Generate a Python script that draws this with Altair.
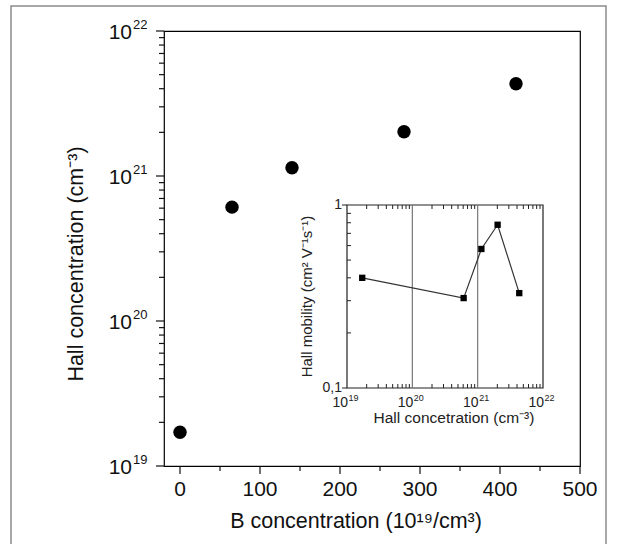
import altair as alt
import pandas as pd

# ---------------- data ----------------
b_conc = [0, 65, 140, 280, 420]                       # 10^19 / cm^3
hall_conc = [1.71e19, 6.1e20, 1.14e21, 2.02e21, 4.33e21]  # cm^-3
mobility = [0.40, 0.31, 0.575, 0.78, 0.33]            # cm^2 V^-1 s^-1

main_x_ticks = [0, 100, 200, 300, 400, 500]
main_x_labels = ["0", "100", "200", "300", "400", "500"]
main_x_minor = [50, 150, 250, 350, 450]
main_y_ticks = [1e19, 1e20, 1e21, 1e22]
main_y_base = ["10", "10", "10", "10"]
main_y_exp = ["19", "20", "21", "22"]
main_y_minor = [k * 10.0 ** e for e in (19, 20, 21) for k in range(2, 10)]

inset_x_ticks = [1e19, 1e20, 1e21, 1e22]
inset_x_base = ["10", "10", "10", "10"]
inset_x_exp = ["19", "20", "21", "22"]
inset_x_minor = [k * 10.0 ** e for e in (19, 20, 21) for k in range(2, 10)]
inset_grid = [1e20, 1e21]
inset_y_ticks = [0.1, 1.0]
inset_y_labels = ["0,1", "1"]
inset_y_minor = [0.2, 0.3, 0.4, 0.5, 0.6, 0.7, 0.8, 0.9]

main_x_title = "B concentration (10\u00b9\u2079/cm\u00b3)"
main_y_title = "Hall concentration (cm\u207b\u00b3)"
inset_x_title = "Hall concetration (cm\u207b\u00b3)"
inset_y_title = "Hall mobility (cm\u00b2 V\u207b\u00b9s\u207b\u00b9)"

FONT = "Liberation Sans"
W, H = 416, 435
INK = "#111"

# ---------------- main plot ----------------
xs = alt.Scale(domain=[-20, 500], nice=False, zero=False)
ys = alt.Scale(type="log", domain=[1e19, 1e22], nice=False)

main_df = pd.DataFrame({"b": b_conc, "hall": hall_conc})

points = alt.Chart(main_df).mark_circle(size=180, color="black", opacity=1).encode(
    x=alt.X("b:Q", scale=xs, axis=None),
    y=alt.Y("hall:Q", scale=ys, axis=None),
)

ymaj_df = pd.DataFrame({"v": main_y_ticks, "base": main_y_base, "exp": main_y_exp})
ymin_df = pd.DataFrame({"v": main_y_minor})
xmaj_df = pd.DataFrame({"v": main_x_ticks, "lab": main_x_labels})
xmin_df = pd.DataFrame({"v": main_x_minor})

y_major = alt.Chart(ymaj_df).mark_rule(color=INK, strokeWidth=1.2, x2Offset=-8).encode(
    y=alt.Y("v:Q", scale=ys, axis=None),
    x=alt.XDatum(-20, scale=xs, axis=None), x2=alt.datum(-20))
y_minor = alt.Chart(ymin_df).mark_rule(color=INK, strokeWidth=1.2, x2Offset=-5).encode(
    y=alt.Y("v:Q", scale=ys, axis=None),
    x=alt.XDatum(-20, scale=xs, axis=None), x2=alt.datum(-20))
x_major = alt.Chart(xmaj_df).mark_rule(color=INK, strokeWidth=1.2, y2Offset=8).encode(
    x=alt.X("v:Q", scale=xs, axis=None),
    y=alt.YDatum(1e19, scale=ys, axis=None), y2=alt.datum(1e19))
x_minor = alt.Chart(xmin_df).mark_rule(color=INK, strokeWidth=1.2, y2Offset=5).encode(
    x=alt.X("v:Q", scale=xs, axis=None),
    y=alt.YDatum(1e19, scale=ys, axis=None), y2=alt.datum(1e19))

y_lab_base = alt.Chart(ymaj_df).mark_text(
    font=FONT, fontSize=21, align="right", baseline="middle", dx=-32, dy=2, color=INK).encode(
    y=alt.Y("v:Q", scale=ys, axis=None),
    x=alt.XDatum(-20, scale=xs, axis=None), text="base:N")
y_lab_exp = alt.Chart(ymaj_df).mark_text(
    font=FONT, fontSize=13, align="left", baseline="middle", dx=-31, dy=-6, color=INK).encode(
    y=alt.Y("v:Q", scale=ys, axis=None),
    x=alt.XDatum(-20, scale=xs, axis=None), text="exp:N")
x_lab = alt.Chart(xmaj_df).mark_text(
    font=FONT, fontSize=21, align="center", baseline="middle", dy=24, color=INK).encode(
    x=alt.X("v:Q", scale=xs, axis=None),
    y=alt.YDatum(1e19, scale=ys, axis=None), text="lab:N")

x_tit = alt.Chart(pd.DataFrame({"t": [main_x_title]})).mark_text(
    font=FONT, fontSize=21.5, align="center", baseline="middle", color=INK).encode(
    x=alt.value(192), y=alt.value(491), text="t:N")
y_tit = alt.Chart(pd.DataFrame({"t": [main_y_title]})).mark_text(
    font=FONT, fontSize=21.5, align="center", baseline="middle", angle=270, color=INK).encode(
    x=alt.value(-87), y=alt.value(233), text="t:N")

border = alt.Chart(pd.DataFrame({"a": [0]})).mark_rect(
    fill="transparent", stroke="#8c8c8c", strokeWidth=1.5).encode(
    x=alt.value(-153), x2=alt.value(442), y=alt.value(-25), y2=alt.value(560))

main = alt.layer(points, y_major, y_minor, x_major, x_minor, y_lab_base, y_lab_exp,
                 x_lab, x_tit, y_tit, border)

# ---------------- inset ----------------
ixs = alt.Scale(type="log", domain=[1e19, 1e22], range=[183, 379], nice=False)
iys = alt.Scale(type="log", domain=[0.1, 1.0], range=[357, 174], nice=False)

inset_df = pd.DataFrame({"hc": hall_conc, "mob": mobility})

frame = alt.Chart(pd.DataFrame({"a": [0]})).mark_rect(
    fill="white", stroke="#222", strokeWidth=1.2).encode(
    x=alt.XDatum(1e19, scale=ixs, axis=None), x2=alt.datum(1e22),
    y=alt.YDatum(0.1, scale=iys, axis=None), y2=alt.datum(1.0))

grid = alt.Chart(pd.DataFrame({"g": inset_grid})).mark_rule(color="#777", strokeWidth=1.2).encode(
    x=alt.X("g:Q", scale=ixs, axis=None),
    y=alt.YDatum(0.1, scale=iys, axis=None), y2=alt.datum(1.0))

ixm_df = pd.DataFrame({"v": inset_x_minor})
top_minor = alt.Chart(ixm_df).mark_rule(color="#222", y2Offset=4).encode(
    x=alt.X("v:Q", scale=ixs, axis=None),
    y=alt.YDatum(1.0, scale=iys, axis=None), y2=alt.datum(1.0))
bot_minor = alt.Chart(ixm_df).mark_rule(color="#222", y2Offset=-4).encode(
    x=alt.X("v:Q", scale=ixs, axis=None),
    y=alt.YDatum(0.1, scale=iys, axis=None), y2=alt.datum(0.1))
left_minor = alt.Chart(pd.DataFrame({"v": inset_y_minor})).mark_rule(color="#222", x2Offset=4).encode(
    y=alt.Y("v:Q", scale=iys, axis=None),
    x=alt.XDatum(1e19, scale=ixs, axis=None), x2=alt.datum(1e19))
iyt_df = pd.DataFrame({"v": inset_y_ticks, "lab": inset_y_labels})
left_major = alt.Chart(iyt_df).mark_rule(color="#222", x2Offset=-5).encode(
    y=alt.Y("v:Q", scale=iys, axis=None),
    x=alt.XDatum(1e19, scale=ixs, axis=None), x2=alt.datum(1e19))

line = alt.Chart(inset_df).mark_line(color="#333", strokeWidth=1.2).encode(
    x=alt.X("hc:Q", scale=ixs, axis=None),
    y=alt.Y("mob:Q", scale=iys, axis=None))
squares = alt.Chart(inset_df).mark_square(size=40, color="black", opacity=1).encode(
    x=alt.X("hc:Q", scale=ixs, axis=None),
    y=alt.Y("mob:Q", scale=iys, axis=None))

ixt_df = pd.DataFrame({"v": inset_x_ticks, "base": inset_x_base, "exp": inset_x_exp})
x_labels_base = alt.Chart(ixt_df).mark_text(
    font=FONT, fontSize=14, baseline="middle", align="right", dx=1, dy=15, color="#222").encode(
    x=alt.X("v:Q", scale=ixs, axis=None),
    y=alt.YDatum(0.1, scale=iys, axis=None),
    text="base:N")
x_labels_exp = alt.Chart(ixt_df).mark_text(
    font=FONT, fontSize=9, baseline="middle", align="left", dx=1.5, dy=10, color="#222").encode(
    x=alt.X("v:Q", scale=ixs, axis=None),
    y=alt.YDatum(0.1, scale=iys, axis=None),
    text="exp:N")
y_labels = alt.Chart(iyt_df).mark_text(
    font=FONT, fontSize=14, baseline="middle", align="right", dx=-5, color="#222").encode(
    y=alt.Y("v:Q", scale=iys, axis=None),
    x=alt.XDatum(1e19, scale=ixs, axis=None),
    text="lab:N")
x_title = alt.Chart(pd.DataFrame({"t": [inset_x_title]})).mark_text(
    font=FONT, fontSize=15.5, baseline="middle", align="center", dx=9, dy=30, color="#222").encode(
    x=alt.XDatum(10 ** 20.5, scale=ixs, axis=None),
    y=alt.YDatum(0.1, scale=iys, axis=None),
    text="t:N")
y_title = alt.Chart(pd.DataFrame({"t": [inset_y_title]})).mark_text(
    font=FONT, fontSize=15, baseline="middle", align="center", angle=270, dy=-40, color="#222").encode(
    x=alt.XDatum(1e19, scale=ixs, axis=None),
    y=alt.YDatum(10 ** -0.5, scale=iys, axis=None),
    text="t:N")

inset = alt.layer(frame, grid, top_minor, bot_minor, left_minor, left_major,
                  line, squares, x_labels_base, x_labels_exp, y_labels, x_title, y_title)

chart = alt.layer(main, inset).resolve_scale(x="independent", y="independent").properties(
    width=W, height=H,
    autosize=alt.AutoSizeParams(type="none"),
    padding={"left": 164, "top": 31, "right": 38, "bottom": 78},
).configure(font=FONT).configure_view(
    stroke="black", strokeWidth=1.2
)

chart.save("out.html", embed_options={"renderer": "svg", "actions": False})
